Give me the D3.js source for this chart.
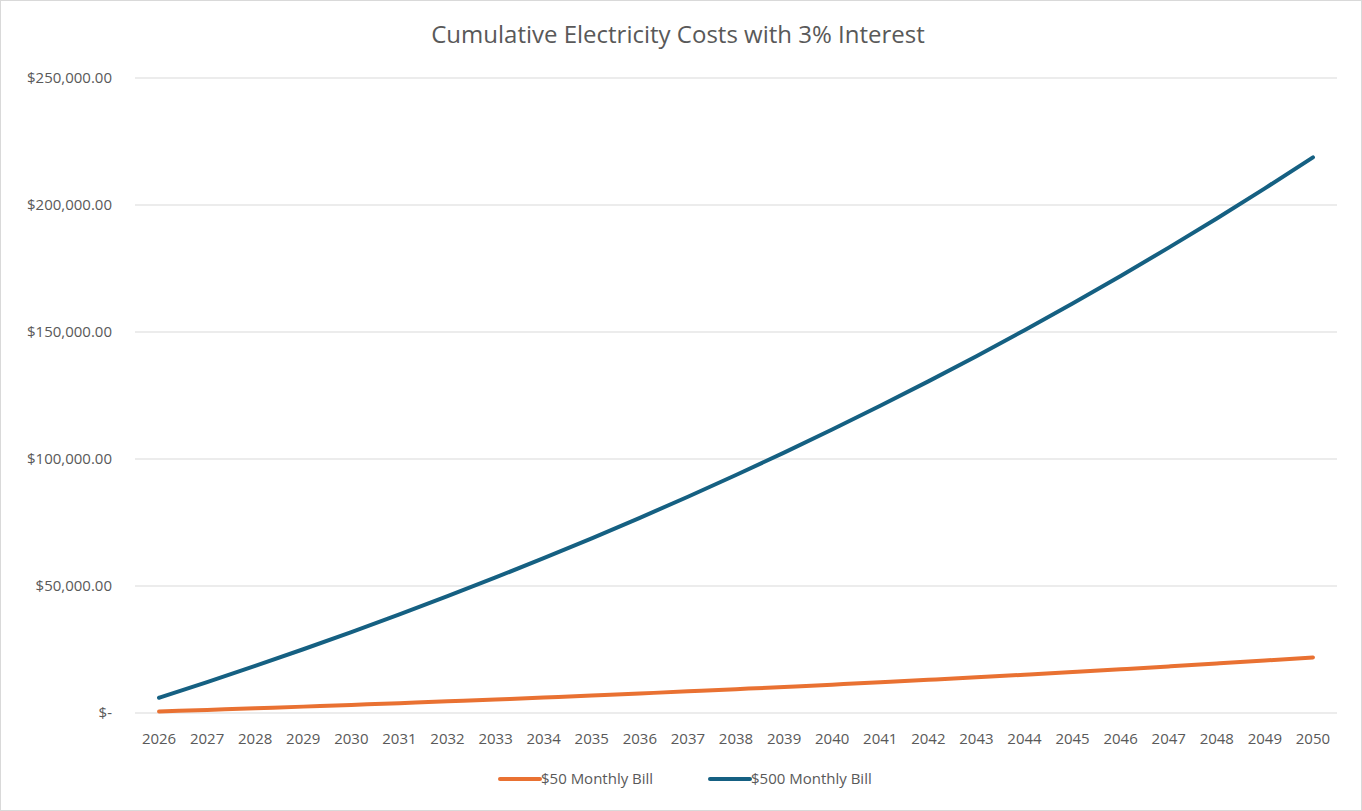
<!DOCTYPE html>
<html><head><meta charset="utf-8">
<script src="https://cdn.jsdelivr.net/npm/d3@7"></script>
<style>body{margin:0;background:#fff;font-family:"Open Sans","Liberation Sans",sans-serif}</style>
</head><body><svg id="c" width="1362" height="811"></svg>
<script>
var years = d3.range(2026, 2051).map(String);
var bill500 = [6000,12180,18545,25101,31855,38810,45975,53354,60955,68783,76847,85152,93707,102518,111593,120941,130569,140486,150701,161222,172059,183221,194717,206559,218755];
var bill50 = [600,1218,1855,2510,3185,3881,4598,5335,6096,6878,7685,8515,9371,10252,11159,12094,13057,14049,15070,16122,17206,18322,19472,20656,21876];
var yTicks = [0,50000,100000,150000,200000,250000];
var seriesNames = ["$50 Monthly Bill","$500 Monthly Bill"];
var colors = ["#e97132","#156082"];

var svg = d3.select("#c");
svg.append("rect").attr("x",0.5).attr("y",0.5).attr("width",1361).attr("height",810)
  .attr("fill","#fff").attr("stroke","#d9d9d9");

var x = d3.scaleBand().domain(years).range([135,1337]);
var y = d3.scaleLinear().domain([0,250000]).range([713,78]);

svg.append("text").attr("x",678).attr("y",43).attr("text-anchor","middle")
  .attr("font-size",24).attr("fill","#595959").text("Cumulative Electricity Costs with 3% Interest");

svg.selectAll(".grid").data(yTicks).enter().append("line")
  .attr("x1",135).attr("x2",1337).attr("y1",d=>y(d)).attr("y2",d=>y(d))
  .attr("stroke","#d9d9d9").attr("stroke-width",1);

var fmt = d => d === 0 ? "$-" : "$" + d3.format(",.2f")(d);
svg.selectAll(".yl").data(yTicks).enter().append("text")
  .attr("x",112).attr("y",d=>y(d)+5).attr("text-anchor","end")
  .attr("font-size",15).attr("fill","#595959").text(fmt);

svg.selectAll(".xl").data(years).enter().append("text")
  .attr("x",d=>x(d)+x.bandwidth()/2).attr("y",744).attr("text-anchor","middle")
  .attr("font-size",15).attr("fill","#595959").text(d=>d);

var line = d3.line().x((d,i)=>x(years[i])+x.bandwidth()/2).y(d=>y(d)).curve(d3.curveMonotoneX);
[bill50,bill500].forEach(function(s,i){
  svg.append("path").attr("d",line(s)).attr("fill","none")
    .attr("stroke",colors[i]).attr("stroke-width",4).attr("stroke-linecap","round");
});

var lx = [500,710];
seriesNames.forEach(function(n,i){
  svg.append("line").attr("x1",lx[i]).attr("x2",lx[i]+40).attr("y1",779).attr("y2",779)
    .attr("stroke",colors[i]).attr("stroke-width",4).attr("stroke-linecap","round");
  svg.append("text").attr("x",lx[i]+41).attr("y",784).attr("font-size",15)
    .attr("fill","#595959").text(n);
});
</script></body></html>
